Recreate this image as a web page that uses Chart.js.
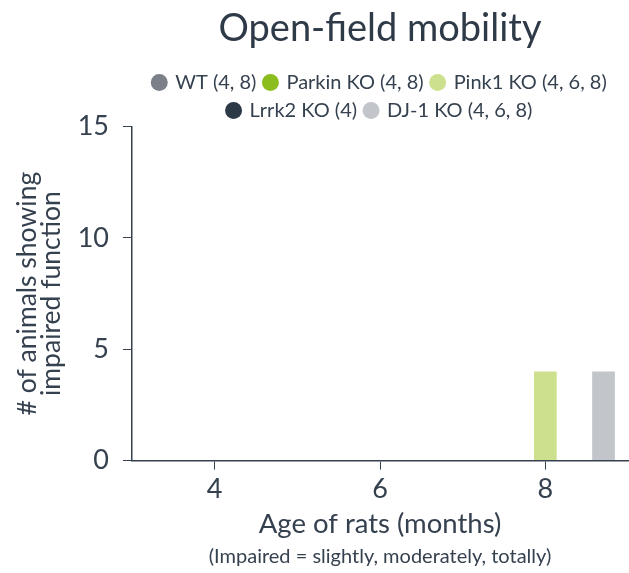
<!DOCTYPE html>
<html>
<head>
<meta charset="utf-8">
<script src="https://cdn.jsdelivr.net/npm/chart.js@4.4.1/dist/chart.umd.min.js"></script>
<style>
  html, body { margin: 0; padding: 0; background: #fff; }
  #wrap { width: 629px; height: 573px; }
</style>
</head>
<body>
<div id="wrap"><canvas id="mobilityChart"></canvas></div>
<script>
// data
const ages       = ["4", "6", "8"];
const wtVals     = [0, 0, 0];
const parkinVals = [0, 0, 0];
const pink1Vals  = [0, 0, 4];
const lrrk2Vals  = [0, 0, 0];
const dj1Vals    = [0, 0, 4];
const yTicks     = [0, 5, 10, 15];

const textColor = "#36414f";

Chart.defaults.font.family = "Lato, 'Open Sans', sans-serif";
Chart.defaults.color = textColor;

function series(label, data, color) {
  return {
    label: label,
    data: data,
    backgroundColor: color,
    borderWidth: 0,
    categoryPercentage: 0.88,
    barPercentage: 0.78
  };
}

// trim the legend box a little so the plot starts right under it
const tightLegend = {
  id: "tightLegend",
  beforeInit(chart) {
    const fit = chart.legend.fit;
    chart.legend.fit = function() {
      fit.call(this);
      this.height -= 4;
    };
  }
};

new Chart(document.getElementById("mobilityChart").getContext("2d"), {
  type: "bar",
  data: {
    labels: ages,
    datasets: [
      series("WT (4, 8)", wtVals, "#7b8089"),
      series("Parkin KO (4, 8)", parkinVals, "#8cbd1e"),
      series("Pink1 KO (4, 6, 8)", pink1Vals, "#cde08e"),
      series("Lrrk2 KO (4)", lrrk2Vals, "#2e3948"),
      series("DJ-1 KO (4, 6, 8)", dj1Vals, "#c2c5ca")
    ]
  },
  plugins: [tightLegend],
  options: {
    responsive: true,
    maintainAspectRatio: false,
    animation: false,
    layout: { padding: { left: 16, right: 1, top: 0, bottom: 4 } },
    plugins: {
      title: {
        display: true,
        fullSize: false,
        text: "Open-field mobility",
        font: { size: 38, weight: "normal" },
        color: "#2f3a48",
        padding: { top: 6, bottom: 13 }
      },
      subtitle: {
        display: true,
        fullSize: false,
        position: "bottom",
        text: "(Impaired = slightly, moderately, totally)",
        font: { size: 20 },
        color: textColor,
        padding: { top: 4, bottom: 0 }
      },
      legend: {
        position: "top",
        fullSize: false,
        labels: {
          usePointStyle: true,
          pointStyle: "circle",
          boxWidth: 12,
          boxHeight: 12,
          padding: 8,
          font: { size: 20 },
          color: textColor
        }
      },
      tooltip: { enabled: false }
    },
    scales: {
      x: {
        grid: {
          offset: false,
          drawOnChartArea: false,
          drawTicks: true,
          tickLength: 9,
          color: textColor
        },
        border: { color: textColor, width: 1.5 },
        ticks: { font: { size: 27 }, color: textColor, padding: 3 },
        title: {
          display: true,
          text: "Age of rats (months)",
          font: { size: 27.5 },
          color: textColor,
          padding: { top: 0, bottom: 0 }
        }
      },
      y: {
        min: 0,
        max: 15,
        afterBuildTicks: axis => { axis.ticks = yTicks.map(v => ({ value: v })); },
        grid: {
          drawOnChartArea: false,
          drawTicks: true,
          tickLength: 9,
          color: textColor
        },
        border: { color: textColor, width: 1.5 },
        ticks: { font: { size: 27 }, color: textColor, padding: 14 },
        title: {
          display: true,
          text: ["# of animals showing", "impaired function"],
          font: { size: 26.5, lineHeight: 0.9 },
          color: textColor,
          padding: { top: 0, bottom: 0 }
        }
      }
    }
  }
});
</script>
</body>
</html>
